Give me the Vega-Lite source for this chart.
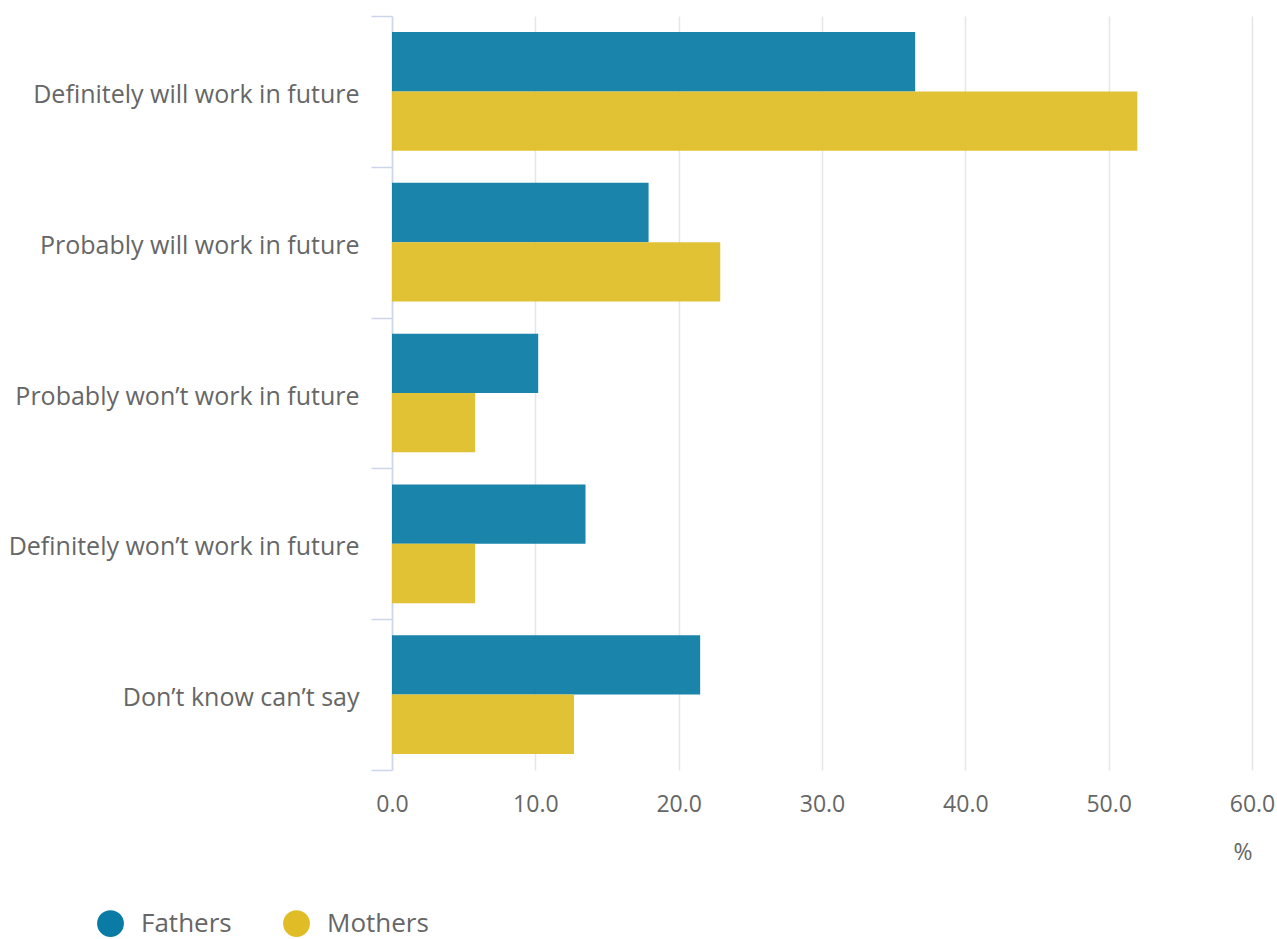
{
  "$schema": "https://vega.github.io/schema/vega-lite/v6.json",
  "width": 860,
  "height": 754,
  "autosize": {"type": "none"},
  "padding": {"left": 392, "top": 16, "right": 25, "bottom": 169},
  "background": "white",
  "config": {
    "font": "Open Sans",
    "view": {"stroke": null}
  },
  "data": {
    "values": [
      {"category": "Definitely will work in future", "group": "Fathers", "value": 36.5},
      {"category": "Definitely will work in future", "group": "Mothers", "value": 52.0},
      {"category": "Probably will work in future", "group": "Fathers", "value": 17.9},
      {"category": "Probably will work in future", "group": "Mothers", "value": 22.9},
      {"category": "Probably won’t work in future", "group": "Fathers", "value": 10.2},
      {"category": "Probably won’t work in future", "group": "Mothers", "value": 5.8},
      {"category": "Definitely won’t work in future", "group": "Fathers", "value": 13.5},
      {"category": "Definitely won’t work in future", "group": "Mothers", "value": 5.8},
      {"category": "Don’t know can’t say", "group": "Fathers", "value": 21.5},
      {"category": "Don’t know can’t say", "group": "Mothers", "value": 12.7}
    ]
  },
  "mark": {"type": "bar", "opacity": 0.93},
  "encoding": {
    "y": {
      "field": "category",
      "type": "nominal",
      "sort": null,
      "scale": {"paddingInner": 0, "paddingOuter": 0},
      "axis": {
        "title": null,
        "tickBand": "extent",
        "domainColor": "#ccd6eb",
        "domainWidth": 1.5,
        "tickColor": "#ccd6eb",
        "tickWidth": 1.5,
        "tickSize": 21,
        "labelPadding": 12,
        "labelFontSize": 25,
        "labelOffset": 3,
        "labelLimit": 0,
        "labelColor": "#666666",
        "labelFont": "Open Sans",
        "grid": false
      }
    },
    "yOffset": {
      "field": "group",
      "type": "nominal",
      "sort": ["Fathers", "Mothers"],
      "scale": {"paddingOuter": 0.27, "paddingInner": 0}
    },
    "x": {
      "field": "value",
      "type": "quantitative",
      "scale": {"domain": [0, 60], "nice": false},
      "axis": {
        "title": "%",
        "titleAnchor": "end",
        "titleFontSize": 23,
        "titleFontWeight": "normal",
        "titleColor": "#666666",
        "titlePadding": 25,
        "values": [0, 10, 20, 30, 40, 50, 60],
        "format": ".1f",
        "labelFontSize": 23,
        "labelFlush": false,
        "labelColor": "#666666",
        "labelPadding": 23,
        "ticks": false,
        "domain": false,
        "grid": true,
        "gridColor": "#e6e6e6",
        "gridWidth": 1.5
      }
    },
    "color": {
      "field": "group",
      "type": "nominal",
      "scale": {"domain": ["Fathers", "Mothers"], "range": ["#0a7ba4", "#e0bd26"]},
      "legend": {
        "title": null,
        "orient": "none",
        "direction": "horizontal",
        "legendX": -296,
        "legendY": 893,
        "symbolType": "circle",
        "symbolSize": 720,
        "symbolOpacity": 1,
        "labelFontSize": 26,
        "labelColor": "#666666",
        "labelOffset": 16,
        "columnPadding": 50
      }
    }
  }
}
